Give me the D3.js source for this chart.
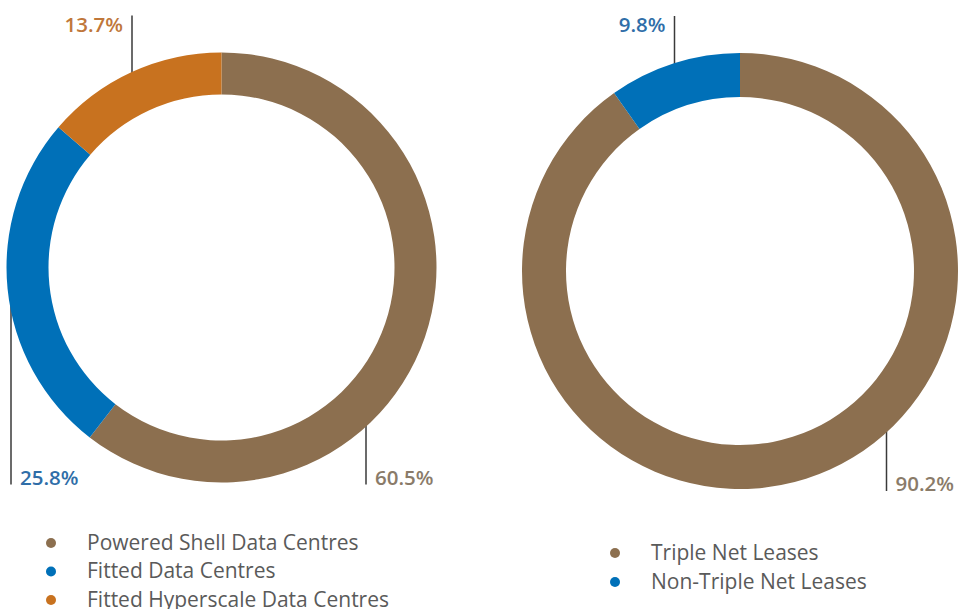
<!DOCTYPE html>
<html>
<head>
<meta charset="utf-8">
<script src="https://cdn.jsdelivr.net/npm/d3@7"></script>
<style>
  body { margin: 0; background: #fff; }
  svg text { font-family: "Open Sans", sans-serif; }
</style>
</head>
<body>
<svg width="959" height="609"></svg>
<script>
// data
var typeLabels = ["Powered Shell Data Centres", "Fitted Data Centres", "Fitted Hyperscale Data Centres"];
var typeValues = [60.5, 25.8, 13.7];
var leaseLabels = ["Triple Net Leases", "Non-Triple Net Leases"];
var leaseValues = [90.2, 9.8];

var colours = ["#8c6f4f", "#0070b8", "#c8721f"];
var labelColours = ["#8a7b69", "#2f6ea8", "#c0773a"];

var svg = d3.select("svg");

var pie = d3.pie().sort(null).value(function(d) { return d; });
var bigLeader = 138 * Math.PI / 180;

function donut(values, labels, cx, cy, r, thick, legend) {
  var arc = d3.arc().innerRadius(r - thick).outerRadius(r);
  var g = svg.append("g").attr("transform", "translate(" + cx + "," + cy + ")");
  var arcs = pie(values);

  // leader lines + labels
  arcs.forEach(function(d, i) {
    var a = i == 0 ? bigLeader : (d.startAngle + d.endAngle) / 2;
    var x = Math.round(r * Math.sin(a)) + 0.5,
        y0 = -(r - thick / 2) * Math.cos(a);
    if (i == 1 && values.length > 2) x += 3;
    var top = Math.cos(a) > 0;
    var y1 = top ? -r - 37 : r + 2;
    g.append("line")
      .attr("x1", x).attr("x2", x)
      .attr("y1", y0).attr("y2", y1)
      .attr("stroke", "#3a3a3a").attr("stroke-width", 1.5);
    g.append("text")
      .attr("x", top ? x - 9 : x + 9)
      .attr("y", top ? y1 + 16 : y1)
      .attr("text-anchor", top ? "end" : "start")
      .attr("font-size", 20.5)
      .attr("font-weight", 600)
      .attr("fill", labelColours[i])
      .text(d3.format(".1f")(d.data) + "%");
  });

  g.selectAll("path.seg")
      .data(arcs)
    .enter().append("path")
      .attr("class", "seg")
      .attr("d", arc)
      .attr("fill", function(d, i) { return colours[i]; });

  var lg = svg.append("g").attr("transform", "translate(" + legend[0] + "," + legend[1] + ")");
  labels.forEach(function(t, i) {
    lg.append("circle")
      .attr("cx", 0).attr("cy", i * legend[2])
      .attr("r", 5)
      .attr("fill", colours[i]);
    lg.append("text")
      .attr("x", 36).attr("y", i * legend[2] + 6.5)
      .attr("font-size", 21)
      .attr("fill", "#5a5a5a")
      .text(t);
  });
}

donut(typeValues, typeLabels, 221.5, 267.5, 215, 42, [51, 543, 28.5]);
donut(leaseValues, leaseLabels, 740, 271, 218, 44, [615, 553, 29]);
</script>
</body>
</html>
